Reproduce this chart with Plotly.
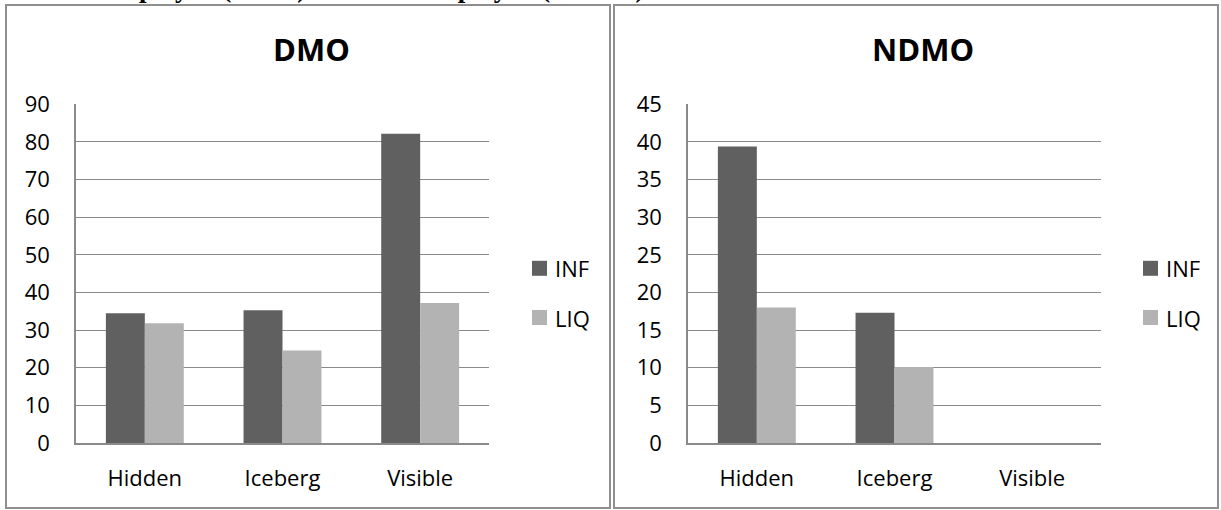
import plotly.graph_objects as go

W, H = 1221, 510

categories = ["Hidden", "Iceberg", "Visible"]
series_names = ["INF", "LIQ"]
dmo_inf = [34.5, 35.3, 82.2]
dmo_liq = [31.8, 24.6, 37.2]
ndmo_inf = [39.4, 17.3, None]
ndmo_liq = [18.0, 10.1, None]

panel_titles = ["DMO", "NDMO"]
caption = "Table 7: Displayed (DMO) and Non-Displayed (NDMO) Shares in Marketable Orders"

INF_COLOR = "#606060"
LIQ_COLOR = "#b3b3b3"
GRID_COLOR = "#8a8a8a"
BORDER_COLOR = "#8f8f8f"
FONT = "Open Sans"


def px(x):
    return x / W


def py(y):
    return 1 - y / H


fig = go.Figure()

fig.add_trace(go.Bar(x=categories, y=dmo_inf, name="INF", marker_color=INF_COLOR,
                     marker_line_width=0, xaxis="x", yaxis="y", showlegend=False))
fig.add_trace(go.Bar(x=categories, y=dmo_liq, name="LIQ", marker_color=LIQ_COLOR,
                     marker_line_width=0, xaxis="x", yaxis="y", showlegend=False))
fig.add_trace(go.Bar(x=categories, y=ndmo_inf, name="INF", marker_color=INF_COLOR,
                     marker_line_width=0, xaxis="x2", yaxis="y2", showlegend=False))
fig.add_trace(go.Bar(x=categories, y=ndmo_liq, name="LIQ", marker_color=LIQ_COLOR,
                     marker_line_width=0, xaxis="x2", yaxis="y2", showlegend=False))

y_dom = [py(443), py(104.3)]
tick_font = dict(family=FONT, size=22, color="#000000")

xcommon = dict(type="category", showline=True, linecolor=GRID_COLOR, linewidth=1.5,
               showgrid=False, ticks="", tickfont=tick_font, ticklabelstandoff=15,
               automargin=False, fixedrange=True)
ycommon = dict(showline=True, linecolor=GRID_COLOR, linewidth=1.5, showgrid=True,
               gridcolor=GRID_COLOR, gridwidth=1.4, zeroline=False, ticks="",
               tickfont=tick_font, ticklabelstandoff=20, automargin=False,
               fixedrange=True)

fig.update_layout(
    width=W, height=H,
    margin=dict(l=0, r=0, t=0, b=0, pad=0),
    paper_bgcolor="white", plot_bgcolor="white",
    barmode="group", bargap=0.434, bargroupgap=0,
    showlegend=False,
    xaxis=dict(domain=[px(76), px(489)], anchor="y", **xcommon),
    yaxis=dict(domain=y_dom, anchor="x", range=[0, 90], dtick=10, **ycommon),
    xaxis2=dict(domain=[px(688), px(1101)], anchor="y2", **xcommon),
    yaxis2=dict(domain=y_dom, anchor="x2", range=[0, 45], dtick=5, **ycommon),
)

shapes = []
annotations = []

# panel frames
for x0, x1 in [(6, 610), (614, 1218)]:
    shapes.append(dict(type="rect", xref="paper", yref="paper",
                       x0=px(x0), x1=px(x1), y0=py(508), y1=py(5),
                       line=dict(color=BORDER_COLOR, width=2), fillcolor="rgba(0,0,0,0)",
                       layer="below"))

# panel titles
for title, cx in zip(panel_titles, [311, 922.5]):
    annotations.append(dict(text=title, xref="paper", yref="paper", x=px(cx), y=py(49.5),
                            xanchor="center", yanchor="middle", showarrow=False,
                            font=dict(family=FONT, size=31, color="#000000", weight="bold")))

# legends
for sx in [532, 1143]:
    for name, color, cy in zip(series_names, [INF_COLOR, LIQ_COLOR], [268.3, 317.5]):
        shapes.append(dict(type="rect", xref="paper", yref="paper",
                           x0=px(sx), x1=px(sx + 15), y0=py(cy + 7.5), y1=py(cy - 7.5),
                           line=dict(width=0), fillcolor=color))
        annotations.append(dict(text=name, xref="paper", yref="paper", x=px(sx + 21),
                                y=py(cy), xanchor="left", yanchor="middle", showarrow=False,
                                font=dict(family=FONT, size=22, color="#000000")))

# caption line above the charts (runs off the page top)
annotations.append(dict(text=caption, xref="paper", yref="paper", x=0, y=py(5.5),
                        xanchor="left", yanchor="bottom", showarrow=False,
                        font=dict(family="Liberation Serif", size=27, color="#000000",
                                  weight="bold")))

fig.update_layout(shapes=shapes, annotations=annotations)

fig.write_html("out.html", config={"displayModeBar": False})
